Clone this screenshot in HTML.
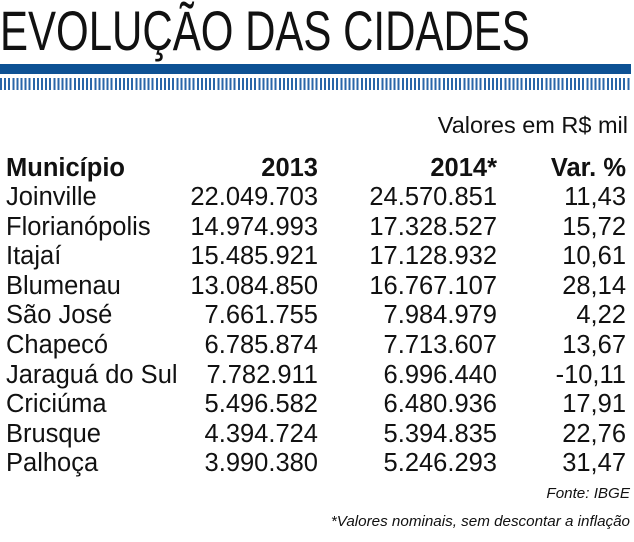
<!DOCTYPE html>
<html><head><meta charset="utf-8"><style>
body{margin:0;width:634px;height:542px;background:#fff;position:relative;overflow:hidden;font-family:"Liberation Sans",sans-serif;color:#111}
.t{position:absolute;left:0;top:3px;font-size:56px;line-height:56px;transform:scaleX(0.75);transform-origin:0 0;white-space:nowrap}
.bar{position:absolute;left:0;top:64px;width:631px;height:10px;background:#0d5194}
.str{position:absolute;left:0;top:78px;width:631px;height:12px;background:repeating-linear-gradient(90deg,#2a66a8 0 2px,transparent 2px 4.1px)}
.r{position:absolute;font-size:25.5px;line-height:24px;white-space:nowrap}
.l{left:6px}
.a{right:316px;text-align:right}
.b{right:137px;text-align:right}
.c{right:8px;text-align:right}
.h{font-weight:bold}
.s{position:absolute;right:4px;font-style:italic;font-size:15.2px;white-space:nowrap}
</style></head><body>
<div class="t">EVOLUÇÃO DAS CIDADES</div>
<div class="bar"></div><div class="str"></div>
<div class="r" style="right:6px;top:113px;font-size:23.5px">Valores em R$ mil</div>
<div class="r l h" style="top:156px">Município</div>
<div class="r a h" style="top:156px">2013</div>
<div class="r b h" style="top:156px">2014*</div>
<div class="r c h" style="top:156px">Var. %</div>

<div class="r l" style="top:185px">Joinville</div><div class="r a" style="top:185px">22.049.703</div><div class="r b" style="top:185px">24.570.851</div><div class="r c" style="top:185px">11,43</div>
<div class="r l" style="top:214.6px">Florianópolis</div><div class="r a" style="top:214.6px">14.974.993</div><div class="r b" style="top:214.6px">17.328.527</div><div class="r c" style="top:214.6px">15,72</div>
<div class="r l" style="top:244.2px">Itajaí</div><div class="r a" style="top:244.2px">15.485.921</div><div class="r b" style="top:244.2px">17.128.932</div><div class="r c" style="top:244.2px">10,61</div>
<div class="r l" style="top:273.8px">Blumenau</div><div class="r a" style="top:273.8px">13.084.850</div><div class="r b" style="top:273.8px">16.767.107</div><div class="r c" style="top:273.8px">28,14</div>
<div class="r l" style="top:303.4px">São José</div><div class="r a" style="top:303.4px">7.661.755</div><div class="r b" style="top:303.4px">7.984.979</div><div class="r c" style="top:303.4px">4,22</div>
<div class="r l" style="top:333px">Chapecó</div><div class="r a" style="top:333px">6.785.874</div><div class="r b" style="top:333px">7.713.607</div><div class="r c" style="top:333px">13,67</div>
<div class="r l" style="top:362.6px">Jaraguá do Sul</div><div class="r a" style="top:362.6px">7.782.911</div><div class="r b" style="top:362.6px">6.996.440</div><div class="r c" style="top:362.6px">-10,11</div>
<div class="r l" style="top:392.2px">Criciúma</div><div class="r a" style="top:392.2px">5.496.582</div><div class="r b" style="top:392.2px">6.480.936</div><div class="r c" style="top:392.2px">17,91</div>
<div class="r l" style="top:421.8px">Brusque</div><div class="r a" style="top:421.8px">4.394.724</div><div class="r b" style="top:421.8px">5.394.835</div><div class="r c" style="top:421.8px">22,76</div>
<div class="r l" style="top:451.4px">Palhoça</div><div class="r a" style="top:451.4px">3.990.380</div><div class="r b" style="top:451.4px">5.246.293</div><div class="r c" style="top:451.4px">31,47</div>

<div class="s" style="top:485px">Fonte: IBGE</div>
<div class="s" style="top:513px">*Valores nominais, sem descontar a inflação</div>
</body></html>
